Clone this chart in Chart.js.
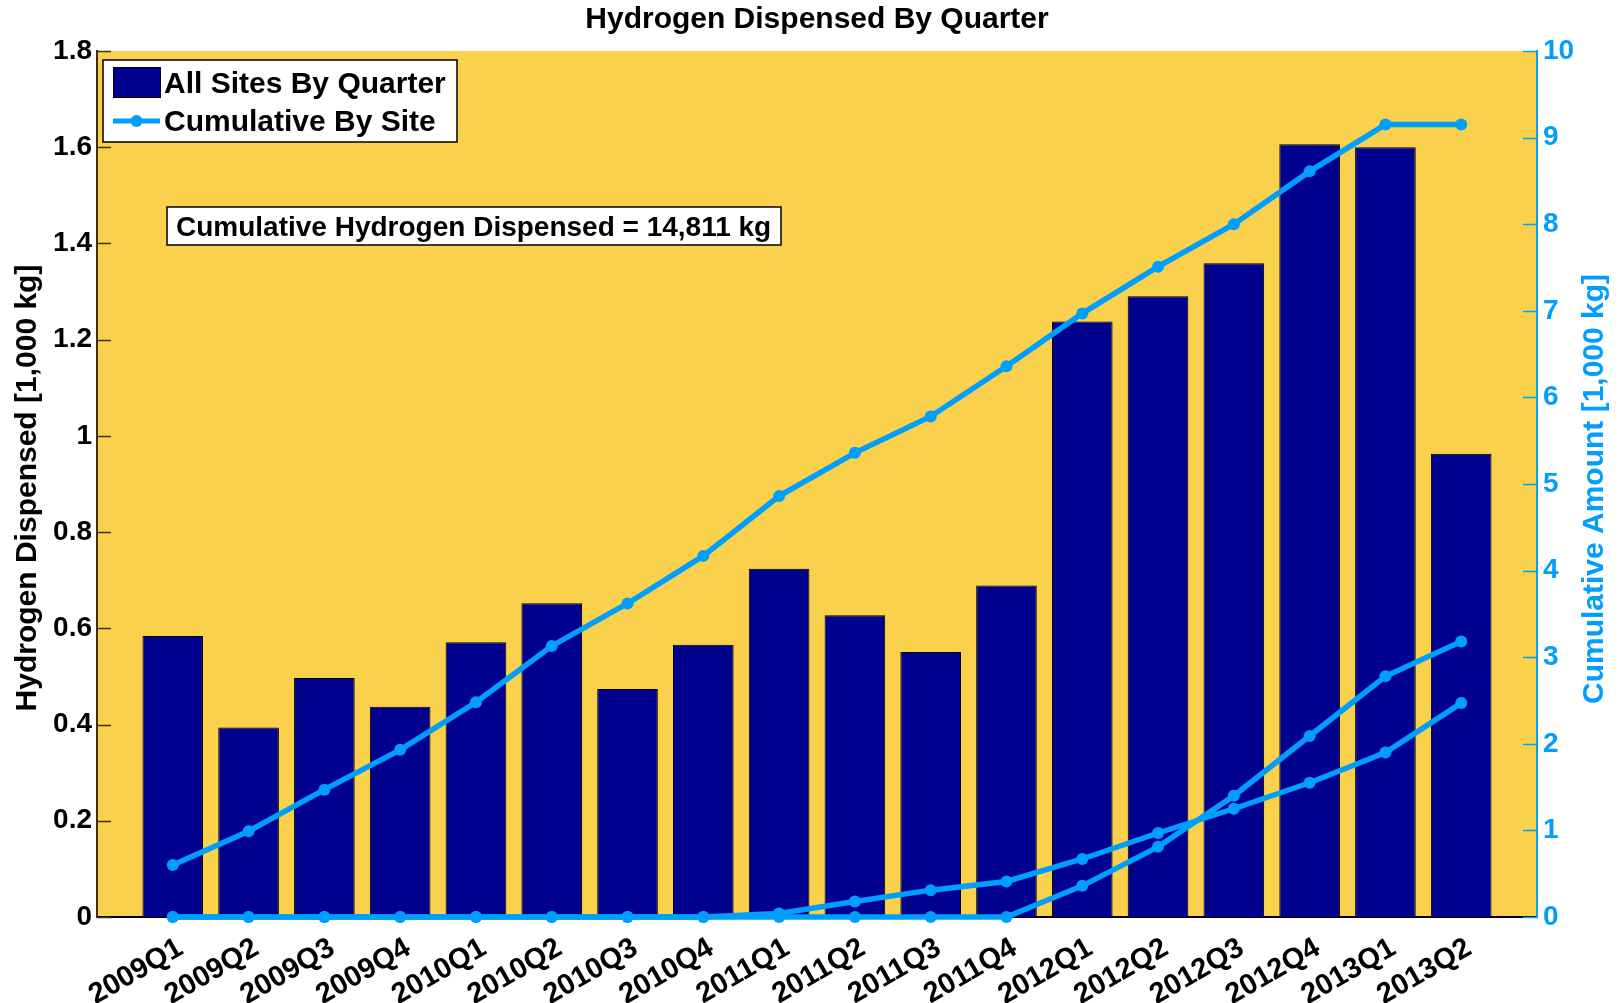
<!DOCTYPE html>
<html>
<head>
<meta charset="utf-8">
<script src="https://cdn.jsdelivr.net/npm/chart.js@4.4.1/dist/chart.umd.min.js"></script>
<style>
html,body{margin:0;padding:0;background:#ffffff;}
canvas{display:block;}
</style>
</head>
<body>
<canvas id="c" width="1624" height="1003"></canvas>
<script>
// ---------------- data ----------------
const categories = ['2009Q1','2009Q2','2009Q3','2009Q4','2010Q1','2010Q2','2010Q3','2010Q4',
  '2011Q1','2011Q2','2011Q3','2011Q4','2012Q1','2012Q2','2012Q3','2012Q4','2013Q1','2013Q2'];
// All sites, per quarter [1,000 kg] (left axis)
const quarterlyTotal = [0.584,0.394,0.497,0.437,0.571,0.652,0.474,0.566,
  0.724,0.627,0.551,0.689,1.238,1.290,1.359,1.606,1.600,0.963];
// Cumulative by site [1,000 kg] (right axis)
const cumulativeSiteA = [0.60,0.99,1.47,1.93,2.48,3.13,3.62,4.17,
  4.86,5.36,5.78,6.36,6.97,7.51,8.00,8.61,9.15,9.15];
const cumulativeSiteB = [0,0,0,0,0,0,0,0,
  0.04,0.18,0.31,0.41,0.67,0.97,1.25,1.55,1.90,2.47];
const cumulativeSiteC = [0,0,0,0,0,0,0,0,
  0,0,0,0,0.36,0.81,1.40,2.09,2.78,3.18];

const titleText = 'Hydrogen Dispensed By Quarter';
const leftAxisTitle = 'Hydrogen Dispensed [1,000 kg]';
const rightAxisTitle = 'Cumulative Amount [1,000 kg]';
const annotationText = 'Cumulative Hydrogen Dispensed = 14,811 kg';
const legendLabels = ['All Sites By Quarter', 'Cumulative By Site'];

// ---------------- styles ----------------
const FONT = "'Liberation Sans', Arial, Helvetica, sans-serif";
const YELLOW = '#F9D14C';
const NAVY = '#00008F';
const BLUE = '#009EFF';

const toPoints = arr => arr.map((v, i) => ({x: i + 1, y: v}));

const lineStyle = {
  type: 'line',
  yAxisID: 'y2',
  borderColor: BLUE,
  backgroundColor: BLUE,
  pointBackgroundColor: BLUE,
  pointBorderColor: BLUE,
  borderWidth: 5.5,
  pointRadius: 6,
  pointBorderWidth: 0,
  tension: 0,
  clip: false,
  order: 0
};

const deco = {
  id: 'deco',
  beforeDraw(chart) {
    const {ctx, chartArea: a} = chart;
    ctx.save();
    ctx.fillStyle = YELLOW;
    ctx.fillRect(a.left, a.top, a.right - a.left, a.bottom - a.top);
    ctx.restore();
  },
  afterDraw(chart) {
    const {ctx, chartArea: a, scales} = chart;
    ctx.save();
    // inward tick marks
    ctx.lineWidth = 1.5;
    ctx.strokeStyle = '#3a3010';
    scales.y.ticks.forEach(t => {
      const py = Math.round(scales.y.getPixelForValue(t.value)) + 0.5;
      ctx.beginPath(); ctx.moveTo(a.left, py); ctx.lineTo(a.left + 14, py); ctx.stroke();
    });
    ctx.strokeStyle = BLUE;
    scales.y2.ticks.forEach(t => {
      const py = Math.round(scales.y2.getPixelForValue(t.value)) + 0.5;
      ctx.beginPath(); ctx.moveTo(a.right - 14, py); ctx.lineTo(a.right, py); ctx.stroke();
    });

    // title
    ctx.fillStyle = '#000';
    ctx.font = 'bold 30px ' + FONT;
    ctx.textAlign = 'center';
    ctx.textBaseline = 'alphabetic';
    ctx.fillText(titleText, (a.left + a.right) / 2, 28);

    // axis titles
    ctx.save();
    ctx.translate(28, (a.top + a.bottom) / 2 + 4);
    ctx.rotate(-Math.PI / 2);
    ctx.textBaseline = 'middle';
    ctx.font = 'bold 30px ' + FONT;
    ctx.fillStyle = '#000';
    ctx.fillText(leftAxisTitle, 0, 0);
    ctx.restore();

    ctx.save();
    ctx.translate(1595, (a.top + a.bottom) / 2 + 5);
    ctx.rotate(-Math.PI / 2);
    ctx.textBaseline = 'middle';
    ctx.font = 'bold 30px ' + FONT;
    ctx.fillStyle = BLUE;
    ctx.fillText(rightAxisTitle, 0, 0);
    ctx.restore();

    // legend
    const lx = 103, ly = 60, lw = 354, lh = 82;
    ctx.fillStyle = '#fff';
    ctx.fillRect(lx, ly, lw, lh);
    ctx.lineWidth = 1.5;
    ctx.strokeStyle = '#000';
    ctx.strokeRect(lx, ly, lw, lh);
    const barDs = chart.data.datasets[0];
    ctx.fillStyle = barDs.backgroundColor;
    ctx.fillRect(113, 67, 47, 30);
    ctx.lineWidth = 1;
    ctx.strokeRect(113.5, 67.5, 47, 30);
    const lineDs = chart.data.datasets[1];
    ctx.strokeStyle = lineDs.borderColor;
    ctx.lineWidth = 5;
    ctx.beginPath(); ctx.moveTo(113, 121); ctx.lineTo(160, 121); ctx.stroke();
    ctx.fillStyle = lineDs.borderColor;
    ctx.beginPath(); ctx.arc(136.5, 121, 6, 0, Math.PI * 2); ctx.fill();
    ctx.fillStyle = '#000';
    ctx.font = 'bold 30px ' + FONT;
    ctx.textAlign = 'left';
    ctx.textBaseline = 'middle';
    ctx.fillText(legendLabels[0], 164, 85);
    ctx.fillText(legendLabels[1], 164, 123);

    // annotation box
    ctx.fillStyle = '#fff';
    ctx.fillRect(167, 207, 614, 38);
    ctx.lineWidth = 1.5;
    ctx.strokeStyle = '#000';
    ctx.strokeRect(167, 207, 614, 38);
    ctx.fillStyle = '#000';
    ctx.font = 'bold 28px ' + FONT;
    ctx.textAlign = 'left';
    ctx.textBaseline = 'middle';
    ctx.fillText(annotationText, 176, 228);

    ctx.restore();
  }
};

const chart = new Chart(document.getElementById('c'), {
  type: 'bar',
  data: {
    datasets: [
      {
        type: 'bar',
        label: legendLabels[0],
        data: toPoints(quarterlyTotal),
        yAxisID: 'y',
        backgroundColor: NAVY,
        borderColor: '#000',
        borderWidth: 1,
        barPercentage: 0.8,
        categoryPercentage: 1.0,
        order: 1
      },
      Object.assign({label: legendLabels[1], data: toPoints(cumulativeSiteA)}, lineStyle),
      Object.assign({label: legendLabels[1] + ' B', data: toPoints(cumulativeSiteB)}, lineStyle),
      Object.assign({label: legendLabels[1] + ' C', data: toPoints(cumulativeSiteC)}, lineStyle)
    ]
  },
  options: {
    responsive: false,
    animation: false,
    devicePixelRatio: 1,
    layout: {padding: {top: 51, left: 0, right: 0, bottom: 0}},
    plugins: {
      legend: {display: false},
      title: {display: false},
      tooltip: {enabled: false}
    },
    scales: {
      x: {
        type: 'linear',
        min: 0,
        max: categories.length + 1,
        offset: false,
        grid: {display: false, drawTicks: false},
        border: {display: true, color: '#000', width: 2},
        ticks: {
          stepSize: 1,
          autoSkip: false,
          minRotation: 30,
          maxRotation: 30,
          padding: 14,
          labelOffset: 8,
          color: '#000',
          font: {family: FONT, size: 29, weight: 'bold'},
          callback: v => categories[v - 1] || ''
        },
        afterFit: s => { s.height = 86; }
      },
      y: {
        position: 'left',
        min: 0,
        max: 1.8,
        grid: {display: false, drawTicks: false},
        border: {display: true, color: '#3a3010', width: 2},
        ticks: {
          stepSize: 0.2,
          padding: 5,
          color: '#000',
          font: {family: FONT, size: 28, weight: 'bold'},
          callback: v => String(Number(v.toFixed(1)))
        },
        afterFit: s => { s.width = 97; }
      },
      y2: {
        position: 'right',
        min: 0,
        max: 10,
        grid: {display: false, drawTicks: false},
        border: {display: true, color: BLUE, width: 2},
        ticks: {
          stepSize: 1,
          padding: 6,
          color: BLUE,
          font: {family: FONT, size: 28, weight: 'bold'}
        },
        afterFit: s => { s.width = 87; }
      }
    }
  },
  plugins: [deco]
});
</script>
</body>
</html>
